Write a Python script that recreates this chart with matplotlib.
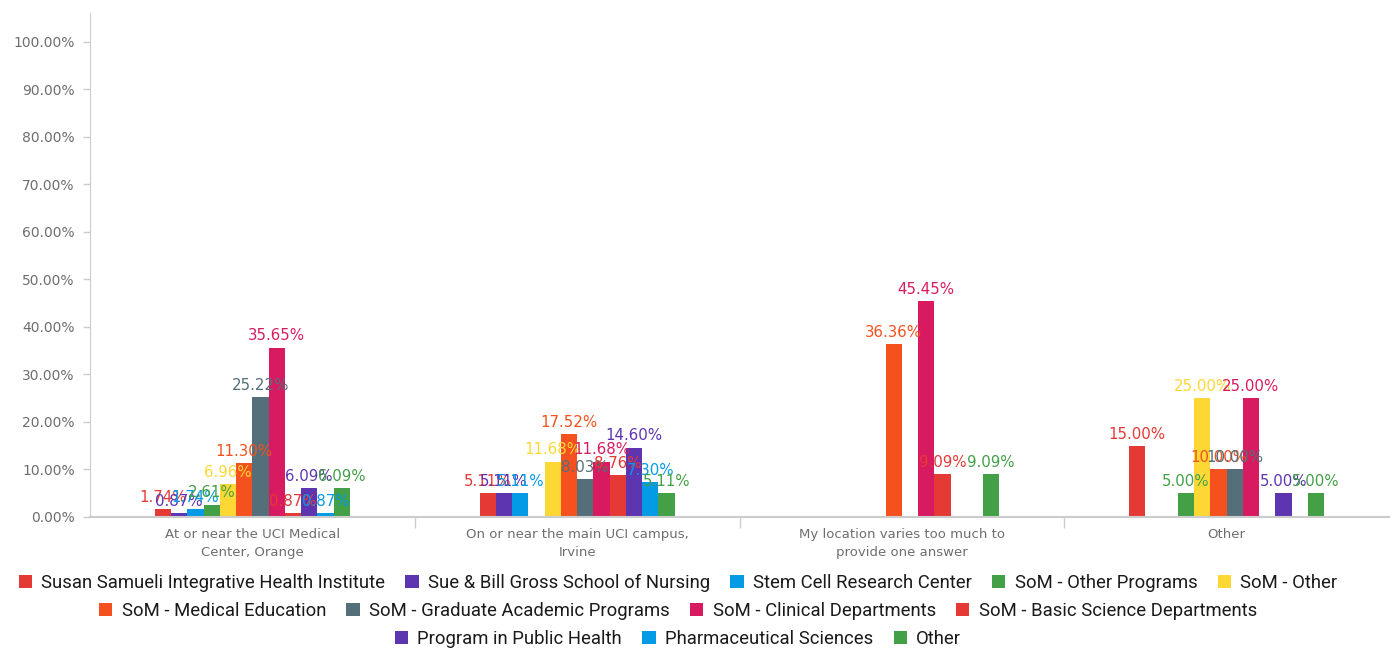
import matplotlib
matplotlib.use("Agg")
import matplotlib.pyplot as plt
import numpy as np

categories = ["At or near the UCI Medical\nCenter, Orange",
              "On or near the main UCI campus,\nIrvine",
              "My location varies too much to\nprovide one answer",
              "Other"]

series_names = ["Susan Samueli Integrative Health Institute",
                "Sue & Bill Gross School of Nursing",
                "Stem Cell Research Center",
                "SoM - Other Programs",
                "SoM - Other",
                "SoM - Medical Education",
                "SoM - Graduate Academic Programs",
                "SoM - Clinical Departments",
                "SoM - Basic Science Departments",
                "Program in Public Health",
                "Pharmaceutical Sciences",
                "Other"]

series_colors = ["#E53935", "#5E35B1", "#039BE5", "#43A047", "#FDD835",
                 "#F4511E", "#546E7A", "#D81B60", "#E53935", "#5E35B1",
                 "#039BE5", "#43A047"]

# values per series across the 4 categories (None = no bar)
susan = [1.74, 5.11, None, 15.00]
nursing = [0.87, 5.11, None, None]
stem_cell = [1.74, 5.11, None, None]
som_other_programs = [2.61, None, None, 5.00]
som_other = [6.96, 11.68, None, 25.00]
med_education = [11.30, 17.52, 36.36, 10.00]
grad_programs = [25.22, 8.03, None, 10.00]
clinical = [35.65, 11.68, 45.45, 25.00]
basic_science = [0.87, 8.76, 9.09, None]
public_health = [6.09, 14.60, None, 5.00]
pharm = [0.87, 7.30, None, None]
other = [6.09, 5.11, 9.09, 5.00]

series_values = [susan, nursing, stem_cell, som_other_programs, som_other,
                 med_education, grad_programs, clinical, basic_science,
                 public_health, pharm, other]

yticks = [0, 10, 20, 30, 40, 50, 60, 70, 80, 90, 100]

W, H = 1397, 656
fig = plt.figure(figsize=(W / 100, H / 100), dpi=100)
ax = fig.add_axes([90 / W, 1 - 517 / H, (1389 - 90) / W, (517 - 13) / H])

n = len(series_names)
slot = 0.05
x = np.arange(len(categories))
handles = []
for k, (name, vals, col) in enumerate(zip(series_names, series_values, series_colors)):
    xs = [x[i] + (k - (n - 1) / 2) * slot for i, v in enumerate(vals) if v is not None]
    vs = [v for v in vals if v is not None]
    bc = ax.bar(xs, vs, width=slot, color=col, label=name, zorder=2)
    handles.append(bc)
    for xi, vi in zip(xs, vs):
        ax.annotate(f"{vi:.2f}%", (xi, vi), xytext=(0, 3), textcoords="offset points",
                    ha="center", va="bottom", color=col, fontsize=10.8,
                    family="DejaVu Sans", zorder=3)

ax.set_xlim(-0.5, len(categories) - 0.5)
ax.set_ylim(0, 106.1)
ax.set_yticks(yticks)
ax.set_yticklabels([f"{t:.2f}%" for t in yticks], color="#6E6E6E", fontsize=10)
ax.tick_params(axis="y", length=5, color="#CCCCCC", width=1, pad=6)

ax.set_xticks(x)
ax.set_xticklabels(categories, color="#6E6E6E", fontsize=9.5, linespacing=1.45)
ax.tick_params(axis="x", length=0, pad=8)
ax.set_xticks(np.arange(0.5, len(categories) - 0.5, 1), minor=True)
ax.tick_params(axis="x", which="minor", length=8, color="#CCCCCC", width=1)

for s in ["top", "right"]:
    ax.spines[s].set_visible(False)
ax.spines["left"].set_color("#CCCCCC")
ax.spines["bottom"].set_color("#CCCCCC")
ax.spines["bottom"].set_linewidth(1.5)

rows = [list(range(0, 5)), list(range(5, 9)), list(range(9, 12))]
row_y = [583, 611, 639]
for r, yy in zip(rows, row_y):
    leg = fig.legend([handles[i] for i in r], [series_names[i] for i in r],
                     loc="center", bbox_to_anchor=(678 / W, 1 - yy / H),
                     ncol=len(r), frameon=False, prop={"family": "Roboto", "size": 13.3},
                     handlelength=0.72, handleheight=0.72, handletextpad=0.5,
                     columnspacing=1.1, borderpad=0, borderaxespad=0)
    for t in leg.get_texts():
        t.set_color("#1A1A1A")

fig.savefig("out.png", dpi=100)
